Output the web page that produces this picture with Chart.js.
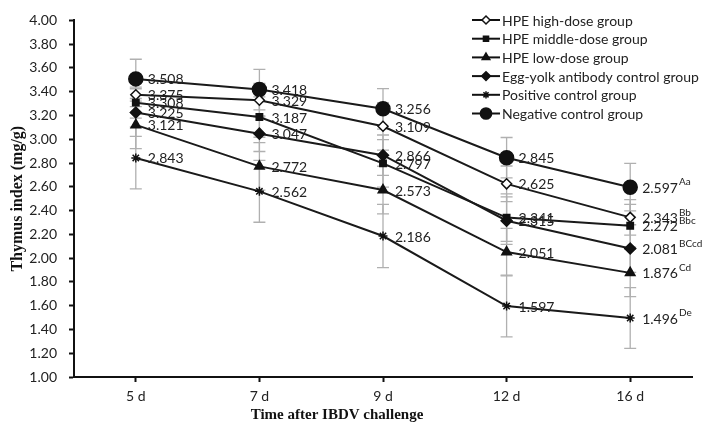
<!DOCTYPE html>
<html>
<head>
<meta charset="utf-8">
<script src="https://cdn.jsdelivr.net/npm/chart.js@4"></script>
<style>
  body{margin:0;background:#fff;}
  #wrap{width:704px;height:442px;}
</style>
</head>
<body>
<div id="wrap"><canvas id="c" width="704" height="442"></canvas></div>
<script>
const days = ["5 d","7 d","9 d","12 d","16 d"];
const yTicks = [1.0,1.2,1.4,1.6,1.8,2.0,2.2,2.4,2.6,2.8,3.0,3.2,3.4,3.6,3.8,4.0];

const groupNames = ["HPE high-dose group","HPE middle-dose group","HPE low-dose group","Egg-yolk antibody control group","Positive control group","Negative control group"];

const hpeHigh   = [3.375,3.329,3.109,2.625,2.343];
const hpeMiddle = [3.308,3.187,2.797,2.341,2.272];
const hpeLow    = [3.121,2.772,2.573,2.051,1.876];
const eggYolk   = [3.225,3.047,2.866,2.315,2.081];
const positive  = [2.843,2.562,2.186,1.597,1.496];
const negative  = [3.508,3.418,3.256,2.845,2.597];

// standard deviations (estimated from the error bars)
const hpeHighSd   = [0.10,0.14,0.20,0.15,0.15];
const hpeMiddleSd = [0.13,0.17,0.20,0.20,0.18];
const hpeLowSd    = [0.20,0.20,0.20,0.20,0.20];
const eggYolkSd   = [0.20,0.15,0.17,0.20,0.20];
const positiveSd  = [0.26,0.26,0.266,0.26,0.256];
const negativeSd  = [0.165,0.17,0.17,0.17,0.20];

// significance letters at 16 d
const sigLetters = ["Bb","Bbc","Cd","BCcd","De","Aa"];

const values = [hpeHigh,hpeMiddle,hpeLow,eggYolk,positive,negative];
const sds = [hpeHighSd,hpeMiddleSd,hpeLowSd,eggYolkSd,positiveSd,negativeSd];
const styles = [
  {pointStyle:'rectRot', radius:5, fill:'#fff'},
  {pointStyle:'rect', radius:4.5, fill:'#111'},
  {pointStyle:'triangle', radius:5.5, fill:'#111'},
  {pointStyle:'rectRot', radius:5.5, fill:'#111'},
  {pointStyle:'star', radius:4.5, fill:'#111'},
  {pointStyle:'circle', radius:7, fill:'#111'}
];

const FONT = 'Lato, "Noto Sans", sans-serif';

const errorBars = {
  id:'errorBars',
  beforeDatasetsDraw(chart){
    const {ctx, scales:{x,y}} = chart;
    ctx.save();
    ctx.strokeStyle = '#b0b0b0';
    ctx.lineWidth = 1.3;
    values.forEach((vals,s)=>{
      vals.forEach((v,i)=>{
        const px = x.getPixelForValue(i);
        const hi = y.getPixelForValue(v + sds[s][i]);
        const lo = y.getPixelForValue(v - sds[s][i]);
        ctx.beginPath();
        ctx.moveTo(px,hi); ctx.lineTo(px,lo);
        ctx.moveTo(px-6,hi); ctx.lineTo(px+6,hi);
        ctx.moveTo(px-6,lo); ctx.lineTo(px+6,lo);
        ctx.stroke();
      });
    });
    ctx.restore();
  }
};

const valueLabels = {
  id:'valueLabels',
  afterDatasetsDraw(chart){
    const {ctx, scales:{x,y}} = chart;
    ctx.save();
    ctx.fillStyle = '#222';
    ctx.textBaseline = 'middle';
    ctx.textAlign = 'left';
    values.forEach((vals,s)=>{
      vals.forEach((v,i)=>{
        const px = x.getPixelForValue(i) + 12;
        const py = y.getPixelForValue(v) + 1;
        const txt = v.toFixed(3);
        ctx.font = '14px ' + FONT;
        ctx.fillText(txt, px, py);
        if(i === vals.length-1){
          const w = ctx.measureText(txt).width;
          ctx.font = '10px ' + FONT;
          ctx.fillText(sigLetters[s], px + w + 1, py - 6);
        }
      });
    });
    ctx.restore();
  }
};

const sideTexts = {
  id:'sideTexts',
  afterDraw(chart){
    const {ctx, chartArea} = chart;
    ctx.save();
    ctx.fillStyle = '#111';
    ctx.textAlign = 'center';
    ctx.textBaseline = 'middle';
    ctx.font = 'bold 15px "Liberation Serif", "Times New Roman", serif';
    ctx.fillText('Time after IBDV challenge', 337, 415);
    ctx.font = 'bold 16px "Liberation Serif", "Times New Roman", serif';
    ctx.translate(18, (chartArea.top + chartArea.bottom)/2);
    ctx.rotate(-Math.PI/2);
    ctx.fillText('Thymus index (mg/g)', 0, 0);
    ctx.restore();

    // legend
    ctx.save();
    ctx.font = '14px ' + FONT;
    ctx.textBaseline = 'middle';
    groupNames.forEach((name,i)=>{
      const ly = 20 + i*18.7;
      ctx.strokeStyle = '#111';
      ctx.lineWidth = 2;
      ctx.beginPath(); ctx.moveTo(472,ly); ctx.lineTo(500,ly); ctx.stroke();
      ctx.fillStyle = styles[i].fill;
      ctx.lineWidth = 1.5;
      Chart.helpers.drawPoint(ctx, {pointStyle:styles[i].pointStyle, radius:styles[i].radius*0.8, borderWidth:1.5}, 486, ly);
      ctx.fillStyle = '#222';
      ctx.fillText(name, 502, ly + 1);
    });
    ctx.restore();
  }
};

const datasets = values.map((vals,i)=>({
  label: groupNames[i],
  data: vals,
  borderColor:'#1a1a1a',
  borderWidth:2,
  pointStyle: styles[i].pointStyle,
  pointRadius: styles[i].radius,
  pointBackgroundColor: styles[i].fill,
  pointBorderColor:'#111',
  pointBorderWidth:1.5,
  tension:0
}));

new Chart(document.getElementById('c'), {
  type:'line',
  data:{labels:days, datasets},
  options:{
    responsive:false,
    animation:false,
    layout:{padding:{top:13,right:12,left:0,bottom:0}},
    plugins:{legend:{display:false}, tooltip:{enabled:false}},
    scales:{
      x:{
        offset:true,
        grid:{display:true, drawOnChartArea:false, offset:false, drawTicks:true, tickLength:5, tickColor:'#111', tickWidth:2},
        border:{color:'#111', width:2},
        ticks:{color:'#222', font:{family:FONT, size:14}, padding:6},
        afterFit(scale){ scale.height = 65; }
      },
      y:{
        min:1, max:4,
        afterBuildTicks(scale){ scale.ticks = yTicks.map(v=>({value:v})); },
        grid:{display:true, drawOnChartArea:false, drawTicks:true, tickLength:5, tickColor:'#111', tickWidth:2},
        border:{color:'#111', width:2},
        ticks:{color:'#222', font:{family:FONT, size:14}, padding:12, callback:v=>Number(v).toFixed(2)},
        afterFit(scale){ scale.width = 74; }
      }
    }
  },
  plugins:[errorBars, valueLabels, sideTexts]
});
</script>
</body>
</html>
